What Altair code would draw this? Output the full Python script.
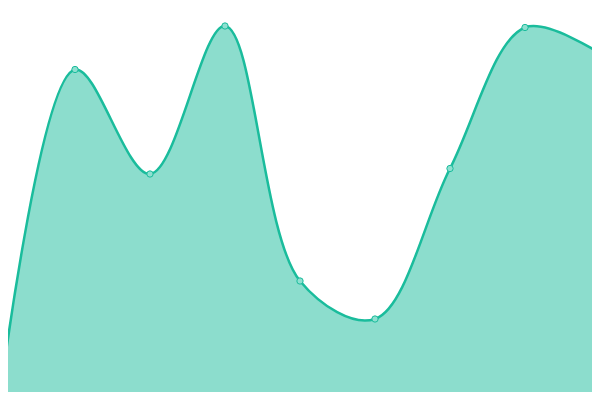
import altair as alt
import pandas as pd

xs = [0, 1, 2, 3, 4, 5, 6, 7, 8]
values = [3, 330.5, 226, 374, 119, 81, 231.5, 372.5, 346.5]

df = pd.DataFrame({"x": xs, "v": values})

xscale = alt.Scale(domain=[8 / 75, 592 / 75], nice=False, zero=False)
yscale = alt.Scale(domain=[8, 392], nice=False, zero=False)

base = alt.Chart(df).encode(
    x=alt.X("x:Q", scale=xscale, axis=None),
    y=alt.Y("v:Q", scale=yscale, axis=None),
)

area = base.mark_area(
    interpolate="catmull-rom",
    color="#1abc9c",
    fillOpacity=0.5,
    line={"color": "#1abc9c", "strokeWidth": 2.5},
    clip=True,
)

points = base.mark_point(
    filled=True,
    size=40,
    fill="#8ee0d0",
    stroke="#1abc9c",
    strokeWidth=1,
    opacity=1,
    clip=True,
)

chart = (
    alt.layer(area, points)
    .properties(width=584, height=384, padding=0, autosize="none")
    .configure_view(strokeWidth=0)
)

chart.save("out.html", embed_options={"renderer": "svg", "actions": False})
